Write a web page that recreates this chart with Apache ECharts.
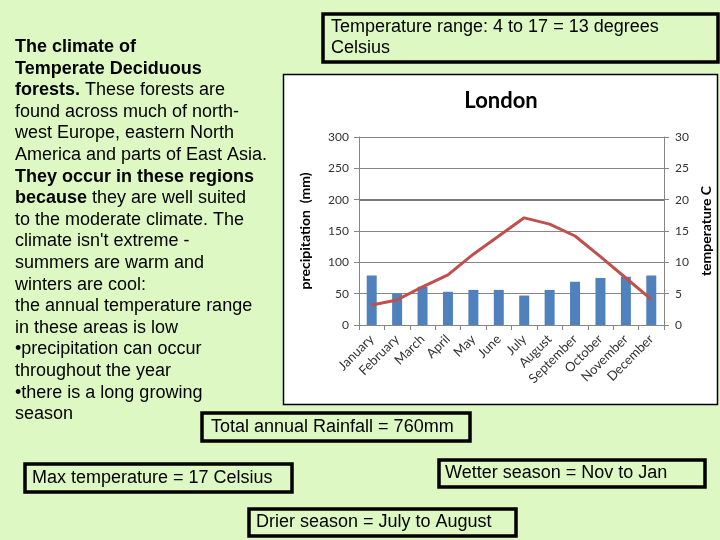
<!DOCTYPE html>
<html><head><meta charset="utf-8">
<script src="https://cdn.jsdelivr.net/npm/echarts@6/dist/echarts.min.js"></script>
<style>html,body{margin:0;padding:0;background:#DEF8C3}#c{width:720px;height:540px}</style>
</head><body><div id="c"></div>
<script>
const months = ['January','February','March','April','May','June','July','August','September','October','November','December'];
const precipitation = [79, 50, 61, 53, 56, 56, 47, 56, 69, 75, 77, 79];
const temperature = [3.2, 4.0, 6.1, 8.0, 11.3, 14.2, 17.1, 16.1, 14.2, 10.9, 7.5, 4.1];
const chartTitle = 'London';
const leftAxisName = 'precipitation  (mm)';
const rightAxisName = 'temperature C';
const leftLines = [
  '{b|The climate of}',
  '{b|Temperate Deciduous}',
  '{b|forests.} These forests are',
  'found across much of north-',
  'west Europe, eastern North',
  'America and parts of East Asia.',
  '{b|They occur in these regions}',
  '{b|because} they are well suited',
  'to the moderate climate. The',
  "climate isn't extreme -",
  'summers are warm and',
  'winters are cool:',
  'the annual temperature range',
  'in these areas is low',
  '\u2022precipitation can occur',
  'throughout the year',
  '\u2022there is a long growing',
  'season'
];
const boxTexts = {
  range: ['Temperature range: 4 to 17 = 13 degrees', 'Celsius'],
  rain: 'Total annual Rainfall = 760mm',
  maxT: 'Max temperature = 17 Celsius',
  wet: 'Wetter season = Nov to Jan',
  dry: 'Drier season = July to August'
};

const FONT = '"Liberation Sans", Arial, sans-serif';
const CF = 'Lato, "Open Sans", sans-serif';
const graphics = [];
// chart white panel
graphics.push({type:'rect', z:-10, shape:{x:283.5,y:74.5,width:434,height:330}, style:{fill:'#fff', stroke:'#000', lineWidth:1.5}});
leftLines.forEach((t,i)=>{
  graphics.push({type:'text', x:15, y:47 + i*21.6, z:5, style:{text:t, font:'18px '+FONT, fill:'#000', textVerticalAlign:'middle',
    rich:{b:{fontWeight:'bold', fontSize:18, fontFamily:FONT, fill:'#000'}}}});
});
function box(x1,y1,x2,y2){
  graphics.push({type:'rect', z:5, shape:{x:x1,y:y1,width:x2-x1,height:y2-y1}, style:{fill:'none', stroke:'#000', lineWidth:3.5}});
}
function txt(t,x,y){
  graphics.push({type:'text', x:x, y:y, z:6, style:{text:t, font:'18px '+FONT, fill:'#000', textVerticalAlign:'middle'}});
}
box(323,14,718,62); txt(boxTexts.range[0],331,27); txt(boxTexts.range[1],331,48);
box(202,413,470,441); txt(boxTexts.rain,211,427);
box(25,464,292,492); txt(boxTexts.maxT,32,478);
box(439,460,705,487); txt(boxTexts.wet,445,473);
box(249,509,516,536); txt(boxTexts.dry,256,522);
graphics.push({type:'text', x:501, y:101, z:6, style:{text:chartTitle, font:'bold 22px '+CF, fill:'#000', textAlign:'center', textVerticalAlign:'middle'}});

const axisCol = '#868686';
const chart = echarts.init(document.getElementById('c'));
chart.setOption({
  backgroundColor:'#DEF8C3',
  animation:false,
  graphic: graphics,
  grid:{left:359, right:56, top:137, bottom:215},
  xAxis:{type:'category', data:months,
    axisLine:{lineStyle:{color:axisCol}},
    axisTick:{show:true, length:5, lineStyle:{color:axisCol}},
    axisLabel:{rotate:45, color:'#333', fontSize:13, fontFamily:CF, margin:12, interval:0}},
  yAxis:[
    {type:'value', min:0, max:300, interval:50, name:leftAxisName, nameLocation:'middle', nameRotate:90, nameGap:47,
      nameTextStyle:{fontWeight:'bold', fontSize:14, fontFamily:CF, color:'#000'},
      axisLine:{show:true, lineStyle:{color:axisCol}}, axisTick:{show:true, length:5, lineStyle:{color:axisCol}},
      axisLabel:{color:'#333', fontSize:12, fontFamily:CF, margin:10},
      splitLine:{lineStyle:{color:axisCol}}},
    {type:'value', min:0, max:30, interval:5, name:rightAxisName, nameLocation:'middle', nameRotate:90, nameGap:35,
      nameTextStyle:{fontWeight:'bold', fontSize:14, fontFamily:CF, color:'#000'},
      axisLine:{show:true, lineStyle:{color:axisCol}}, axisTick:{show:true, length:5, lineStyle:{color:axisCol}},
      axisLabel:{color:'#333', fontSize:12, fontFamily:CF, margin:11},
      splitLine:{show:false}}
  ],
  series:[
    {type:'bar', data:precipitation, barWidth:10, itemStyle:{color:'#4F81BD'},
      markLine:{silent:true, symbol:'none', label:{show:false}, lineStyle:{color:'#7a7a7a', width:2, type:'solid'}, data:[{yAxis:200}]}},
    {type:'line', yAxisIndex:1, data:temperature, symbol:'none', lineStyle:{color:'#C0504D', width:3}, itemStyle:{color:'#C0504D'}}
  ]
});
</script></body></html>
